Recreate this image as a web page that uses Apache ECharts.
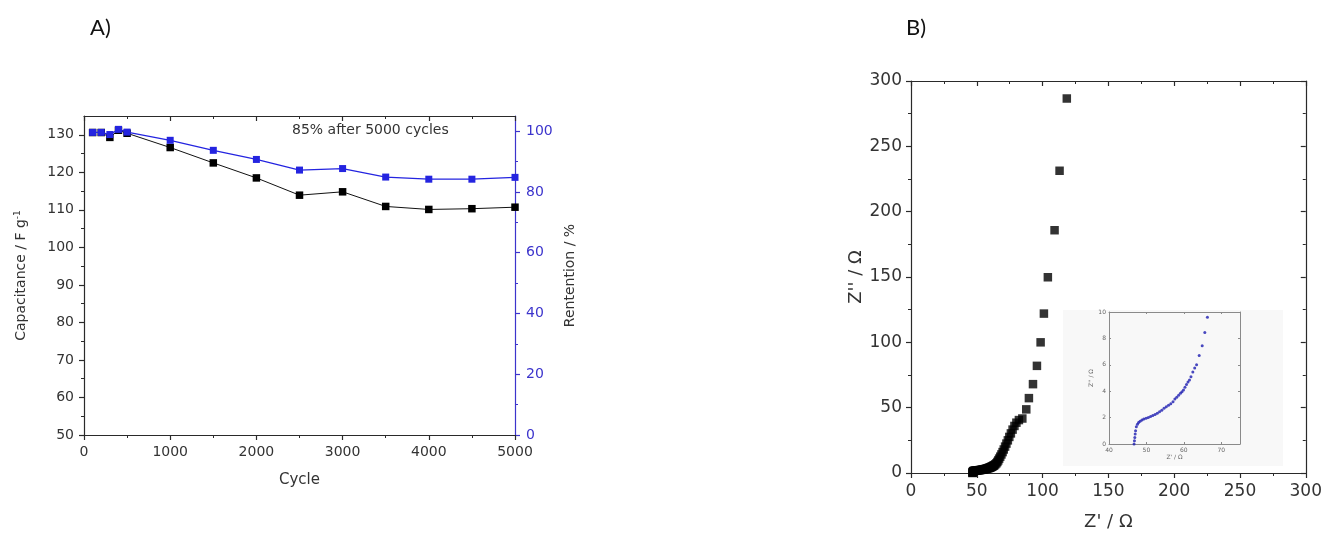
<!DOCTYPE html>
<html>
<head>
<meta charset="utf-8">
<script src="https://cdn.jsdelivr.net/npm/echarts@6/dist/echarts.min.js"></script>
<style>
html,body{margin:0;padding:0;background:#fff;}
#c{width:1325px;height:536px;}
</style>
</head>
<body>
<div id="c"></div>
<script>
// ---- Panel A data ----
const cycles = [100, 200, 300, 400, 500, 1000, 1500, 2000, 2500, 3000, 3500, 4000, 4500, 5000];
const capacitance = [130.6, 130.6, 129.3, 131.2, 130.4, 126.6, 122.5, 118.5, 113.9, 114.8, 110.9, 110.1, 110.3, 110.7];
const retention = [99.6, 99.6, 98.9, 100.6, 99.7, 97.0, 93.7, 90.7, 87.2, 87.7, 84.9, 84.2, 84.2, 84.8];
const capTickLabels = [50, 60, 70, 80, 90, 100, 110, 120, 130];
const capMinorTicks = [55, 65, 75, 85, 95, 105, 115, 125];
const retTickLabels = [0, 20, 40, 60, 80, 100];
const retMinorTicks = [10, 30, 50, 70, 90];

// ---- Panel B data (Nyquist) ----
const zReLow = [46.7, 46.8, 46.9, 47.0, 47.1, 47.3, 47.6, 47.9, 48.3, 48.8, 49.3, 49.9, 50.5, 51.1, 51.7, 52.3, 52.9, 53.5, 54.1, 54.7, 55.3, 55.9, 56.5, 57.1, 57.6, 58.1, 58.6, 59.1, 59.5, 59.9, 60.3, 60.7, 61.1, 61.5, 61.9, 62.4, 62.9, 63.4, 64.1, 64.9, 65.6, 66.3];
const zImLow = [0.0, 0.25, 0.5, 0.75, 1.0, 1.3, 1.5, 1.62, 1.72, 1.82, 1.9, 1.95, 2.0, 2.08, 2.15, 2.24, 2.33, 2.44, 2.56, 2.7, 2.82, 2.93, 3.05, 3.2, 3.4, 3.55, 3.7, 3.85, 3.95, 4.1, 4.3, 4.5, 4.7, 4.85, 5.1, 5.45, 5.75, 6.0, 6.7, 7.45, 8.45, 9.6];
const zReHigh = [67.0, 67.8, 68.7, 69.6, 70.5, 71.5, 72.5, 73.6, 74.7, 75.9, 77.2, 78.6, 80.1, 82.0, 84.6, 87.6, 89.6, 92.7, 95.7, 98.5, 101.0, 104.0, 109.1, 112.9, 118.4];
const zImHigh = [11.0, 12.5, 14.2, 16.0, 18.0, 20.2, 22.5, 25.0, 27.6, 30.3, 33.2, 36.0, 38.5, 40.5, 41.7, 48.7, 57.3, 68.0, 82.0, 100.0, 122.0, 149.8, 185.8, 231.3, 286.6];

const BLUE = '#2424e0';
const BLUE_AX = '#3c34cc';
const AX = '#2a2a2a';
const TXT = '#333333';
const FONT = 'DejaVu Sans';

function pairs(xs, ys) { return xs.map((x, i) => [x, ys[i]]); }
const plain = v => String(v);

const capData = pairs(cycles, capacitance);
const retData = pairs(cycles, retention);
const nyqLow = pairs(zReLow, zImLow);
const nyqAll = nyqLow.concat(pairs(zReHigh, zImHigh));

function baseAxis(o) {
  return Object.assign({
    type: 'value',
    splitLine: { show: false },
    axisLine: { show: true, onZero: false, lineStyle: { color: AX, width: 1.2 } },
    axisTick: { show: true, inside: false, length: 5, lineStyle: { color: AX, width: 1.2 } },
    minorTick: { show: false },
    axisLabel: { show: true, color: TXT, fontFamily: FONT, fontSize: 14, margin: 10, formatter: plain }
  }, o);
}

const chart = echarts.init(document.getElementById('c'), null, { renderer: 'canvas' });

const gridA = { left: 84, top: 116, right: 810, bottom: 101 };

const option = {
  animation: false,
  backgroundColor: '#ffffff',
  grid: [
    gridA,
    { left: 911, top: 81, width: 396, height: 396 },
    { left: 1109, top: 312, width: 131, height: 132 },
    Object.assign({}, gridA)
  ],
  xAxis: [
    baseAxis({ gridIndex: 0, min: 0, max: 5000, interval: 1000, position: 'bottom',
      name: 'Cycle', nameLocation: 'middle', nameGap: 38,
      nameTextStyle: { color: TXT, fontFamily: FONT, fontSize: 15 },
      minorTick: { show: true, splitNumber: 2, length: 3, lineStyle: { color: AX } } }),
    baseAxis({ gridIndex: 0, min: 0, max: 5000, interval: 1000, position: 'top',
      axisTick: { show: true, inside: true, length: 5, lineStyle: { color: AX, width: 1.2 } },
      axisLabel: { show: false },
      minorTick: { show: true, splitNumber: 2, length: 3, lineStyle: { color: AX } } }),
    baseAxis({ gridIndex: 1, min: 0, max: 300, interval: 50, position: 'bottom',
      name: "Z' / \u03A9", nameLocation: 'middle', nameGap: 40,
      nameTextStyle: { color: TXT, fontFamily: FONT, fontSize: 18 },
      axisLabel: { color: TXT, fontFamily: FONT, fontSize: 17, margin: 10, formatter: plain },
      minorTick: { show: true, splitNumber: 2, length: 3, lineStyle: { color: AX } } }),
    baseAxis({ gridIndex: 1, min: 0, max: 300, interval: 50, position: 'top',
      axisTick: { show: true, inside: true, length: 5, lineStyle: { color: AX, width: 1.2 } },
      axisLabel: { show: false },
      minorTick: { show: true, splitNumber: 2, length: 3, lineStyle: { color: AX } } }),
    baseAxis({ gridIndex: 2, min: 40, max: 75, interval: 10, position: 'bottom',
      name: "Z' / \u03A9", nameLocation: 'middle', nameGap: 10,
      nameTextStyle: { color: '#666', fontFamily: FONT, fontSize: 6 },
      axisLine: { show: true, onZero: false, lineStyle: { color: '#8a8a8a', width: 1 } },
      axisTick: { show: true, inside: true, length: 2, lineStyle: { color: '#8a8a8a', width: 1 } },
      axisLabel: { color: '#666', fontFamily: FONT, fontSize: 6, margin: 3, showMaxLabel: false, formatter: plain } }),
    baseAxis({ gridIndex: 2, min: 40, max: 75, interval: 10, position: 'top',
      axisLine: { show: true, onZero: false, lineStyle: { color: '#8a8a8a', width: 1 } },
      axisTick: { show: true, inside: true, length: 2, lineStyle: { color: '#8a8a8a', width: 1 } },
      axisLabel: { show: false } }),
    // hidden x axis for the minor-tick overlay grid of panel A
    baseAxis({ gridIndex: 3, min: 0, max: 5000, show: false })
  ],
  yAxis: [
    baseAxis({ gridIndex: 0, min: 50, max: 135, position: 'left',
      name: '{n|Capacitance / F g}{s|-1}', nameLocation: 'middle', nameGap: 54,
      nameTextStyle: { color: TXT, fontFamily: FONT, fontSize: 14,
        rich: { n: { fontFamily: FONT, fontSize: 14, color: TXT },
                s: { fontFamily: FONT, fontSize: 9, color: TXT, verticalAlign: 'top', padding: [0, 0, 8, 0] } } },
      axisTick: { show: true, inside: false, length: 5, customValues: capTickLabels, lineStyle: { color: AX, width: 1.2 } },
      axisLabel: { color: TXT, fontFamily: FONT, fontSize: 14, margin: 10, customValues: capTickLabels, formatter: plain } }),
    baseAxis({ gridIndex: 0, min: 0, max: 105, position: 'right',
      name: 'Rentention / %', nameLocation: 'middle', nameGap: 48, nameRotate: 90,
      nameTextStyle: { color: TXT, fontFamily: FONT, fontSize: 14 },
      axisLine: { show: true, onZero: false, lineStyle: { color: BLUE_AX, width: 1.2 } },
      axisTick: { show: true, inside: false, length: 5, customValues: retTickLabels, lineStyle: { color: BLUE_AX, width: 1.2 } },
      axisLabel: { color: BLUE_AX, fontFamily: FONT, fontSize: 14, margin: 11, customValues: retTickLabels, formatter: plain } }),
    baseAxis({ gridIndex: 1, min: 0, max: 300, interval: 50, position: 'left',
      name: "Z'' / \u03A9", nameLocation: 'middle', nameGap: 45,
      nameTextStyle: { color: TXT, fontFamily: FONT, fontSize: 18 },
      axisLabel: { color: TXT, fontFamily: FONT, fontSize: 17, margin: 9, formatter: plain },
      minorTick: { show: true, splitNumber: 2, length: 3, lineStyle: { color: AX } } }),
    baseAxis({ gridIndex: 1, min: 0, max: 300, interval: 50, position: 'right',
      axisTick: { show: true, inside: true, length: 5, lineStyle: { color: AX, width: 1.2 } },
      axisLabel: { show: false },
      minorTick: { show: true, splitNumber: 2, length: 3, lineStyle: { color: AX } } }),
    baseAxis({ gridIndex: 2, min: 0, max: 10, interval: 2, position: 'left',
      name: "Z'' / \u03A9", nameLocation: 'middle', nameGap: 12,
      nameTextStyle: { color: '#666', fontFamily: FONT, fontSize: 6 },
      axisLine: { show: true, onZero: false, lineStyle: { color: '#8a8a8a', width: 1 } },
      axisTick: { show: true, inside: true, length: 2, lineStyle: { color: '#8a8a8a', width: 1 } },
      axisLabel: { color: '#666', fontFamily: FONT, fontSize: 6, margin: 3, formatter: plain } }),
    baseAxis({ gridIndex: 2, min: 0, max: 10, interval: 2, position: 'right',
      axisLine: { show: true, onZero: false, lineStyle: { color: '#8a8a8a', width: 1 } },
      axisTick: { show: true, inside: true, length: 2, lineStyle: { color: '#8a8a8a', width: 1 } },
      axisLabel: { show: false } }),
    // minor-tick overlays for panel A (separate grid with identical geometry)
    baseAxis({ gridIndex: 3, min: 50, max: 135, position: 'left',
      axisLine: { show: false },
      axisTick: { show: true, inside: false, length: 3, customValues: capMinorTicks, lineStyle: { color: AX, width: 1 } },
      axisLabel: { show: false } }),
    baseAxis({ gridIndex: 3, min: 0, max: 105, position: 'right',
      axisLine: { show: false },
      axisTick: { show: true, inside: false, length: 3, customValues: retMinorTicks, lineStyle: { color: BLUE_AX, width: 1 } },
      axisLabel: { show: false } })
  ],
  series: [
    { type: 'line', name: 'Capacitance', xAxisIndex: 0, yAxisIndex: 0, data: capData,
      symbol: 'rect', symbolSize: 7.5, showAllSymbol: true, z: 3,
      lineStyle: { color: '#111', width: 1 }, itemStyle: { color: '#000' } },
    { type: 'line', name: 'Retention', xAxisIndex: 0, yAxisIndex: 1, data: retData,
      symbol: 'rect', symbolSize: 7, showAllSymbol: true, z: 4,
      lineStyle: { color: BLUE, width: 1.2 }, itemStyle: { color: BLUE } },
    { type: 'scatter', name: 'Nyquist', xAxisIndex: 2, yAxisIndex: 2, data: nyqAll,
      symbol: 'rect', symbolSize: 8.5, itemStyle: { color: '#000' } },
    { type: 'scatter', name: 'Nyquist inset', xAxisIndex: 4, yAxisIndex: 4, data: nyqLow,
      symbol: 'circle', symbolSize: 3, z: 5, itemStyle: { color: '#1c1cb0' } }
  ],
  graphic: [
    { type: 'rect', z: -10, silent: true, shape: { x: 1063, y: 310, width: 220, height: 156 },
      style: { fill: '#f8f8f8' } },
    { type: 'text', left: 90, top: 17, style: { text: 'A)', font: '22px Lato', fill: '#111' } },
    { type: 'text', left: 906, top: 17, style: { text: 'B)', font: '22px Lato', fill: '#111' } },
    { type: 'text', x: 292, y: 130, style: { text: '85% after 5000 cycles', font: '14px "DejaVu Sans"', fill: TXT, verticalAlign: 'middle' } }
  ]
};

chart.setOption(option);
</script>
</body>
</html>
